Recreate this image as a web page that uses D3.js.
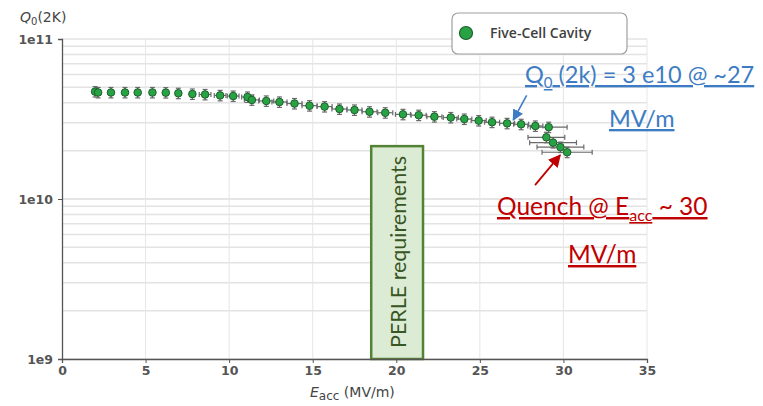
<!DOCTYPE html>
<html>
<head>
<meta charset="utf-8">
<script src="https://cdn.jsdelivr.net/npm/d3@7"></script>
<style>
  body { margin: 0; background: #fff; }
  svg { display: block; }
</style>
</head>
<body>
<svg id="chart" width="763" height="406"></svg>
<script>
"use strict";

// Eacc (MV/m)
var eacc = [1.98, 2.16, 2.93, 3.77, 4.53, 5.41, 6.21, 6.96, 7.80, 8.56,
            9.46, 10.24, 11.10, 11.36, 12.22, 13.01, 13.91, 14.81, 15.71, 16.60,
            17.50, 18.40, 19.34, 20.40, 21.34, 22.28, 23.26, 24.07, 24.93, 25.73,
            26.63, 27.47, 28.32, 29.12, 28.98, 29.38, 29.82, 30.22];
// Q0 at 2K
var q0 = [4.69e10, 4.63e10, 4.63e10, 4.63e10, 4.63e10, 4.63e10, 4.62e10, 4.58e10, 4.53e10, 4.50e10,
          4.44e10, 4.40e10, 4.34e10, 4.16e10, 4.10e10, 4.04e10, 3.95e10, 3.83e10, 3.78e10, 3.65e10,
          3.60e10, 3.51e10, 3.46e10, 3.38e10, 3.34e10, 3.27e10, 3.23e10, 3.16e10, 3.09e10, 3.02e10,
          2.97e10, 2.93e10, 2.86e10, 2.81e10, 2.43e10, 2.25e10, 2.11e10, 1.96e10];
// horizontal error (MV/m)
var eErr = [0.15, 0.15, 0.15, 0.15, 0.15, 0.15, 0.15, 0.15, 0.15, 0.35,
            0.35, 0.35, 0.35, 0.45, 0.45, 0.45, 0.45, 0.45, 0.45, 0.45,
            0.45, 0.45, 0.45, 0.45, 0.45, 0.45, 0.45, 0.45, 0.45, 0.45,
            0.45, 0.45, 0.45, 1.1, 1.1, 1.4, 1.4, 1.5];
// relative error on Q0
var qErr = 0.075;

var xTicks = [0, 5, 10, 15, 20, 25, 30, 35];
var yTicks = [1e9, 1e10, 1e11];

// PERLE requirement band: Eacc range and top Q0
var perleE = [18.5, 21.6];
var perleQ = [1e9, 2.14e10];

// annotation arrows [tail, tip] in data units
var blueArrow = [[27.8, 4.45e10], [27.0, 3.12e10]];
var redArrow = [[28.3, 1.22e10], [29.8, 1.88e10]];

var svg = d3.select("#chart");
var x = d3.scaleLinear().domain([0, 35]).range([62, 647]);
var y = d3.scaleLog().domain([1e9, 1e11]).range([359, 39]);

var blue = "#3d7cc4", red = "#c00000";
var annoFont = "Lato, 'Open Sans', sans-serif";

var defs = svg.append("defs");
function head(id, col) {
	defs.append("marker")
		.attr("id", id)
		.attr("viewBox", "0 0 10 10")
		.attr("refX", 9).attr("refY", 5)
		.attr("markerWidth", 7).attr("markerHeight", 7)
		.attr("markerUnits", "strokeWidth")
		.attr("orient", "auto")
		.append("path")
		.attr("d", "M0,0 L10,5 L0,10 z")
		.attr("fill", col);
}
head("ahBlue", blue);
head("ahRed", red);

// grid
var minor = [];
[1e9, 1e10].forEach(function (dec) {
	for (var k = 1; k <= 10; k++) minor.push(dec * k);
});
svg.append("g").selectAll("line.h")
	.data(minor).enter().append("line")
	.attr("x1", x(0)).attr("x2", x(35))
	.attr("y1", function (d) { return y(d); })
	.attr("y2", function (d) { return y(d); })
	.attr("stroke", "#e3e3e3").attr("stroke-width", 1.5);
svg.append("g").selectAll("line.v")
	.data(xTicks.slice(1)).enter().append("line")
	.attr("x1", function (d) { return x(d); })
	.attr("x2", function (d) { return x(d); })
	.attr("y1", y(1e11)).attr("y2", y(1e9))
	.attr("stroke", "#e6e6e6").attr("stroke-width", 1);

// PERLE band
svg.append("rect")
	.attr("x", x(perleE[0]))
	.attr("y", y(perleQ[1]))
	.attr("width", x(perleE[1]) - x(perleE[0]))
	.attr("height", y(perleQ[0]) - y(perleQ[1]))
	.attr("fill", "#dcebd3")
	.attr("stroke", "#548235")
	.attr("stroke-width", 2.5);
var pcx = (x(perleE[0]) + x(perleE[1])) / 2 + 9;
svg.append("text")
	.attr("transform", "translate(" + pcx + "," + (y(1e9) - 11) + ") rotate(-90)")
	.attr("font-family", annoFont)
	.attr("font-size", 22)
	.attr("fill", "#375623")
	.attr("textLength", 192)
	.attr("lengthAdjust", "spacingAndGlyphs")
	.text("PERLE requirements");

// data
var pts = eacc.map(function (e, i) { return { e: e, q: q0[i], de: eErr[i] }; });
var eb = svg.append("g").attr("stroke", "#6a6a6a").attr("stroke-width", 1.2);
pts.forEach(function (p) {
	var cx = x(p.e), cy = y(p.q);
	var y1 = y(p.q * (1 + qErr)), y2 = y(p.q * (1 - qErr));
	eb.append("line").attr("x1", cx).attr("x2", cx).attr("y1", y1).attr("y2", y2);
	eb.append("line").attr("x1", cx - 2.5).attr("x2", cx + 2.5).attr("y1", y1).attr("y2", y1);
	eb.append("line").attr("x1", cx - 2.5).attr("x2", cx + 2.5).attr("y1", y2).attr("y2", y2);
	var xa = x(p.e - p.de), xb = x(p.e + p.de);
	eb.append("line").attr("x1", xa).attr("x2", xb).attr("y1", cy).attr("y2", cy);
	eb.append("line").attr("x1", xa).attr("x2", xa).attr("y1", cy - 2.5).attr("y2", cy + 2.5);
	eb.append("line").attr("x1", xb).attr("x2", xb).attr("y1", cy - 2.5).attr("y2", cy + 2.5);
});
svg.append("g").selectAll("circle")
	.data(pts).enter().append("circle")
	.attr("cx", function (d) { return x(d.e); })
	.attr("cy", function (d) { return y(d.q); })
	.attr("r", 3.8)
	.attr("fill", "#27a344")
	.attr("stroke", "#1d5e2c")
	.attr("stroke-width", 1);

// axes
var xAxis = svg.append("g")
	.attr("transform", "translate(0," + y(1e9) + ")")
	.call(d3.axisBottom(x).tickValues(xTicks).tickSize(4).tickPadding(3));
var yAxis = svg.append("g")
	.attr("transform", "translate(" + x(0) + ",0)")
	.call(d3.axisLeft(y).tickValues(yTicks).tickSize(4).tickPadding(5)
		.tickFormat(function (d) { return "1e" + Math.round(Math.log10(d)); }));
[xAxis, yAxis].forEach(function (a) {
	a.select(".domain").attr("stroke", "#555").attr("stroke-width", 1.3);
	a.selectAll(".tick line").attr("stroke", "#555");
	a.selectAll(".tick text")
		.attr("font-family", "'DejaVu Sans', sans-serif")
		.attr("font-size", 12.5)
		.attr("font-weight", 600)
		.attr("fill", "#555");
});

// axis titles
var yt = svg.append("text")
	.attr("x", 20).attr("y", 22)
	.attr("font-family", "'DejaVu Sans', sans-serif")
	.attr("font-size", 14)
	.attr("fill", "#444");
yt.append("tspan").attr("font-style", "italic").text("Q");
yt.append("tspan").attr("font-size", 10).attr("dy", 3).text("0");
yt.append("tspan").attr("dy", -3).text("(2K)");

var xt = svg.append("text")
	.attr("x", 310).attr("y", 397)
	.attr("font-family", "'DejaVu Sans', sans-serif")
	.attr("font-size", 14)
	.attr("fill", "#444");
xt.append("tspan").attr("font-style", "italic").text("E");
xt.append("tspan").attr("font-size", 12).attr("dy", 3).text("acc");
xt.append("tspan").attr("dy", -3).text(" (MV/m)");

// legend
var lg = svg.append("g");
lg.append("rect")
	.attr("x", 452).attr("y", 13).attr("width", 175).attr("height", 41)
	.attr("rx", 6)
	.attr("fill", "#fff").attr("stroke", "#a0a0a0").attr("stroke-width", 1.2);
lg.append("circle")
	.attr("cx", 466).attr("cy", 33).attr("r", 6.5)
	.attr("fill", "#27a344").attr("stroke", "#1d5e2c").attr("stroke-width", 1.2);
lg.append("text")
	.attr("x", 490).attr("y", 38)
	.attr("font-family", "'Open Sans', sans-serif")
	.attr("font-size", 14)
	.attr("font-weight", 600)
	.attr("fill", "#404040")
	.text("Five-Cell Cavity");

// annotations
function arrow(a, col, id, w) {
	svg.append("line")
		.attr("x1", x(a[0][0])).attr("y1", y(a[0][1]))
		.attr("x2", x(a[1][0])).attr("y2", y(a[1][1]))
		.attr("stroke", col).attr("stroke-width", w)
		.attr("marker-end", "url(#" + id + ")");
}
arrow(blueArrow, blue, "ahBlue", 1.6);
arrow(redArrow, red, "ahRed", 1.8);

var bt = svg.append("text")
	.attr("x", 525).attr("y", 83)
	.attr("font-family", annoFont)
	.attr("font-size", 23.5)
	.attr("fill", blue)
	.attr("text-decoration", "underline");
bt.append("tspan").text("Q");
bt.append("tspan").attr("font-size", 15).attr("dy", 5).text("0");
bt.append("tspan").attr("dy", -5).text(" (2k) = 3 e10 @ ~27");
svg.append("text")
	.attr("x", 609).attr("y", 127)
	.attr("font-family", annoFont)
	.attr("font-size", 23.5)
	.attr("fill", blue)
	.attr("text-decoration", "underline")
	.text("MV/m");

var rt = svg.append("text")
	.attr("x", 497).attr("y", 215)
	.attr("font-family", annoFont)
	.attr("font-size", 24.5)
	.attr("fill", red)
	.attr("text-decoration", "underline");
rt.append("tspan").text("Quench @ E");
rt.append("tspan").attr("font-size", 16).attr("dy", 6).text("acc");
rt.append("tspan").attr("dy", -6).text(" ~ 30");
svg.append("text")
	.attr("x", 568).attr("y", 263)
	.attr("font-family", annoFont)
	.attr("font-size", 24.5)
	.attr("fill", red)
	.attr("text-decoration", "underline")
	.text("MV/m");
</script>
</body>
</html>
